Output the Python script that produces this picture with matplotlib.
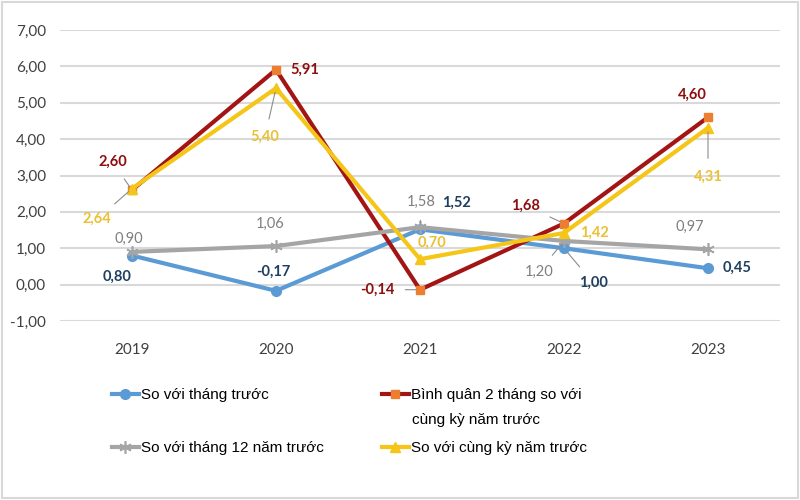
import matplotlib.pyplot as plt
from matplotlib.patches import Rectangle

# Dữ liệu
years = ['2019', '2020', '2021', '2022', '2023']
so_thang_truoc = [0.80, -0.17, 1.52, 1.00, 0.45]
binh_quan_2_thang = [2.60, 5.91, -0.14, 1.68, 4.60]
so_thang_12 = [0.90, 1.06, 1.58, 1.20, 0.97]
so_cung_ky = [2.64, 5.40, 0.70, 1.42, 4.31]

labels = ['So với tháng trước',
          'Bình quân 2 tháng so với',
          'So với tháng 12 năm trước',
          'So với cùng kỳ năm trước']
label_red_2 = 'cùng kỳ năm trước'

# vị trí nhãn số liệu (offset theo point) và có đường dẫn hay không
off_blue = [(-11, -15, 0), (-2, 14, 0), (26, 19, 0), (21, -25, 1), (21, 0, 0)]
off_red = [(-14, 20, 1), (21, 0, 0), (-31, 0, 1), (-28, 13, 1), (-11, 16, 0)]
off_gray = [(-2, 9, 0), (-4, 16, 0), (1, 18, 1), (-18, -22, 1), (-13, 16, 0)]
off_yel = [(-25, -22, 1), (-8, -35, 1), (9, 12, 0), (22, 0, 0), (0, -35, 1)]

c_blue, c_red, c_gray, c_yel = '#5B9BD5', '#A31515', '#A5A5A5', '#F5C518'
t_blue, t_red, t_gray, t_yel = '#1F3F5F', '#8E0E0E', '#7F7F7F', '#EBC033'

fig = plt.figure(figsize=(8, 5), dpi=100)
ax = fig.add_axes([0.075, 0.358, 0.9, 0.582])
x = range(len(years))

l1, = ax.plot(x, so_thang_truoc, color=c_blue, lw=3, marker='o', ms=7, zorder=3)
l2, = ax.plot(x, binh_quan_2_thang, color=c_red, lw=3, marker='s', ms=6,
              mfc='#ED7D31', mec='#ED7D31', zorder=4)
l3, = ax.plot(x, so_thang_12, color=c_gray, lw=3, marker=(6, 2, 0), ms=9,
              mec=c_gray, mew=1.2, zorder=5)
l4, = ax.plot(x, so_cung_ky, color=c_yel, lw=3, marker='^', ms=7, zorder=6)


def fmt(v):
    return f'{v:.2f}'.replace('.', ',')


def add_labels(vals, offs, col, bold=True):
    for i, v in enumerate(vals):
        dx, dy, lead = offs[i]
        ax.annotate(fmt(v), (i, v), xytext=(dx, dy), textcoords='offset points',
                    ha='center', va='center', color=col, fontsize=10.5,
                    fontweight='bold' if bold else 'normal', family='Lato',
                    arrowprops=dict(arrowstyle='-', color='#8C8C8C', lw=0.8,
                                    shrinkA=6, shrinkB=3) if lead else None,
                    zorder=7)


add_labels(so_thang_truoc, off_blue, t_blue)
add_labels(binh_quan_2_thang, off_red, t_red)
add_labels(so_thang_12, off_gray, t_gray, bold=False)
add_labels(so_cung_ky, off_yel, t_yel)

ax.set_xlim(-0.5, 4.5)
ax.set_ylim(-1, 7)
ax.set_yticks(range(-1, 8))
ax.set_yticklabels([fmt(v) for v in range(-1, 8)])
ax.set_xticks(list(x))
ax.set_xticklabels(years)
for t in ax.get_xticklabels() + ax.get_yticklabels():
    t.set_family('Lato')
    t.set_fontsize(11)
    t.set_color('#404040')
ax.tick_params(axis='both', length=0)
ax.tick_params(axis='x', pad=16)
ax.tick_params(axis='y', pad=10)
ax.grid(axis='y', color='#D9D9D9', lw=1.5)
ax.set_axisbelow(True)
for s in ax.spines.values():
    s.set_visible(False)

# chú thích: mỗi mục một hộp để căn đúng lưới 2x2
leg_font = {'family': ['Liberation Sans', 'DejaVu Sans'], 'size': 11}
spots = [(l1, labels[0], 0.14, 0.21), (l2, labels[1], 0.4775, 0.21),
         (l3, labels[2], 0.14, 0.104), (l4, labels[3], 0.4775, 0.104)]
for h, lab, fx, fy in spots:
    fig.legend([h], [lab], loc='center left', bbox_to_anchor=(fx, fy),
               frameon=False, prop=leg_font, handlelength=1.75,
               handletextpad=0.15, borderpad=0, borderaxespad=0)
fig.text(0.515, 0.16, label_red_2, ha='left', va='center', color='black',
         family=['Liberation Sans', 'DejaVu Sans'], fontsize=11)

fig.patches.append(Rectangle((0.002, 0.004), 0.996, 0.992, transform=fig.transFigure,
                             fill=False, edgecolor='#D8D8D8', lw=1.5))

fig.savefig('out.png', dpi=100)
